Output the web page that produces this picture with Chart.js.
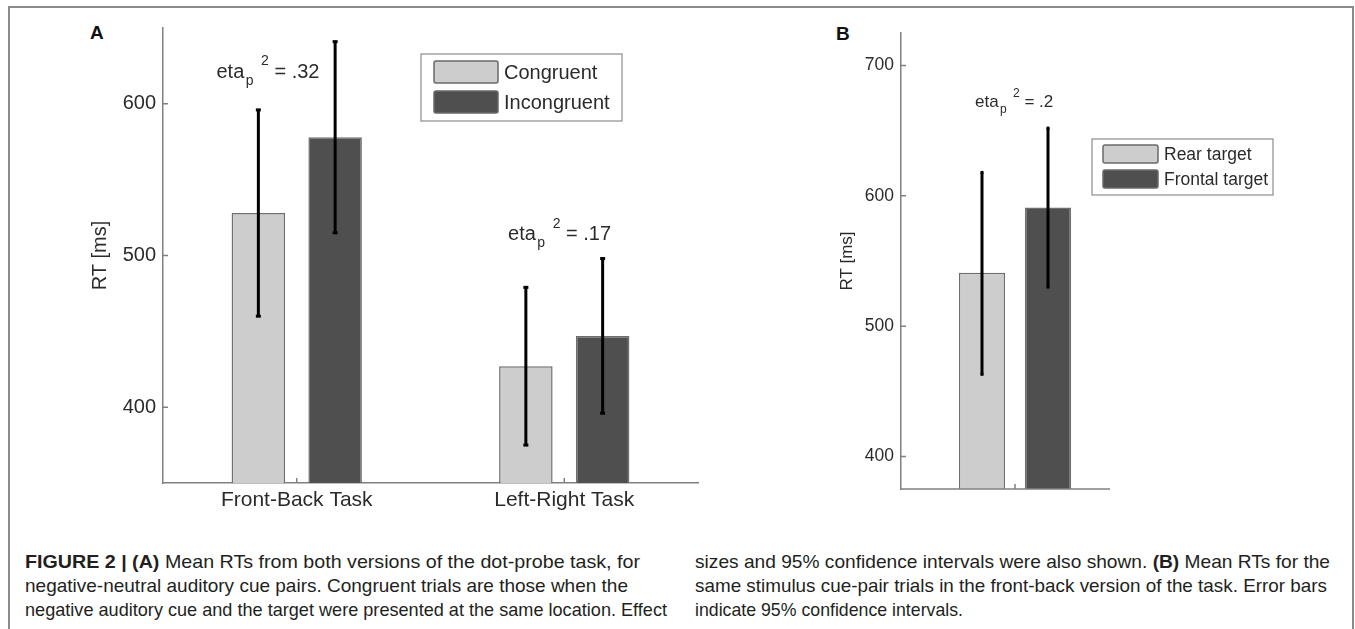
<!DOCTYPE html>
<html>
<head>
<meta charset="utf-8">
<script src="https://cdn.jsdelivr.net/npm/chart.js@4.4.1/dist/chart.umd.min.js"></script>
<style>
  body { margin: 0; background: #fff; width: 1355px; height: 629px; position: relative; overflow: hidden;
         font-family: "Liberation Sans", Arial, sans-serif; color: #231f20; }
  .frame { position: absolute; left: 8px; top: 6px; width: 1342px; height: 700px;
           border: 2px solid #8a8a8a; border-bottom: none; }
  canvas { position: absolute; top: 0; }
  #chartA { left: 0; }
  #chartB { left: 800px; }
  .panel-label { position: absolute; font-weight: bold; font-size: 19px; line-height: 19px; color: #111; }
  .cap { position: absolute; font-size: 19px; line-height: 24px; white-space: nowrap; color: #231f20;
         transform-origin: 0 0; }
  .cap b { font-weight: bold; }
</style>
</head>
<body>
<div class="frame"></div>
<div class="panel-label" style="left:90px; top:23px;">A</div>
<div class="panel-label" style="left:836px; top:24px;">B</div>
<canvas id="chartA" width="720" height="530"></canvas>
<canvas id="chartB" width="540" height="530"></canvas>

<div class="cap" data-w="615" style="left:25px; top:550px;"><b>FIGURE 2 | (A)</b> Mean RTs from both versions of the dot-probe task, for</div>
<div class="cap" data-w="603" style="left:25px; top:574px;">negative-neutral auditory cue pairs. Congruent trials are those when the</div>
<div class="cap" data-w="642" style="left:25px; top:598px;">negative auditory cue and the target were presented at the same location. Effect</div>
<div class="cap" data-w="635" style="left:695px; top:550px;">sizes and 95% confidence intervals were also shown. <b>(B)</b> Mean RTs for the</div>
<div class="cap" data-w="632" style="left:695px; top:574px;">same stimulus cue-pair trials in the front-back version of the task. Error bars</div>
<div class="cap" data-w="268" style="left:695px; top:598px;">indicate 95% confidence intervals.</div>

<script>
// Panel A data
const tasks = ['Front-Back Task', 'Left-Right Task'];
const congruentRT = [528, 427];
const incongruentRT = [578, 447];
const congruentLow = [460, 375];
const congruentHigh = [596, 479];
const incongruentLow = [515, 396];
const incongruentHigh = [641, 498];
const etaA = ['.32', '.17'];
const yTicksA = [400, 500, 600];

// Panel B data
const targets = [''];
const rearRT = [541];
const frontalRT = [591];
const rearLow = [463];
const rearHigh = [618];
const frontalLow = [530];
const frontalHigh = [652];
const etaB = ['.2'];
const yTicksB = [400, 500, 600, 700];

const FONT = '"Liberation Sans", Arial, sans-serif';
const TEXT = '#2b2b2b';
const AXIS = '#808080';
const LIGHT = '#cdcdcd';
const DARK = '#4f4f4f';

// caption lines: squeeze/stretch each line to the width it has in the figure
document.querySelectorAll('.cap').forEach(el => {
    const w = el.getBoundingClientRect().width;
    el.style.transform = 'scaleX(' + (parseFloat(el.dataset.w) / w) + ')';
});

// eta_p^2 = value, drawn piece by piece
function drawEta(ctx, x, y, value, size) {
    ctx.fillStyle = TEXT;
    ctx.textAlign = 'left';
    ctx.textBaseline = 'alphabetic';
    ctx.font = size + 'px ' + FONT;
    ctx.fillText('eta', x, y);
    let cx = x + ctx.measureText('eta').width + size * 0.07;
    const small = Math.round(size * 0.7);
    ctx.font = small + 'px ' + FONT;
    ctx.fillText('p', cx, y + size * 0.35);
    cx += ctx.measureText('p').width + size * 0.38;
    ctx.fillText('2', cx, y - size * 0.63);
    cx += ctx.measureText('2').width;
    ctx.font = size + 'px ' + FONT;
    ctx.fillText(' = ' + value, cx, y);
}

const decor = {
    id: 'decor',
    afterDatasetsDraw(chart, args, opts) {
        const ctx = chart.ctx;
        const xs = chart.scales.x;
        const ys = chart.scales.y;
        const area = chart.chartArea;
        ctx.save();

        // error bars
        ctx.strokeStyle = '#000';
        ctx.fillStyle = '#000';
        ctx.lineWidth = opts.errWidth;
        chart.data.datasets.forEach((ds, i) => {
            chart.getDatasetMeta(i).data.forEach((bar, j) => {
                const top = ys.getPixelForValue(ds.high[j]);
                const bot = ys.getPixelForValue(ds.low[j]);
                ctx.beginPath();
                ctx.moveTo(bar.x, top);
                ctx.lineTo(bar.x, bot);
                ctx.stroke();
                ctx.fillRect(bar.x - opts.cap / 2, top - 1.5, opts.cap, 3);
                ctx.fillRect(bar.x - opts.cap / 2, bot - 1.5, opts.cap, 3);
            });
        });

        // x axis line (B stops short of the chart edge)
        ctx.strokeStyle = AXIS;
        ctx.lineWidth = 1.5;
        if (opts.xAxisEnd !== undefined) {
            ctx.beginPath();
            ctx.moveTo(area.left, area.bottom);
            ctx.lineTo(xs.getPixelForValue(opts.xAxisEnd), area.bottom);
            ctx.stroke();
        }

        // inward tick marks
        ctx.beginPath();
        ys.ticks.forEach(t => {
            const py = ys.getPixelForValue(t.value);
            ctx.moveTo(area.left, py);
            ctx.lineTo(area.left + 5, py);
        });
        xs.ticks.forEach((t, i) => {
            const px = xs.getPixelForValue(i);
            ctx.moveTo(px, area.bottom);
            ctx.lineTo(px, area.bottom - 5);
        });
        ctx.stroke();

        // effect size labels
        opts.eta.forEach(e => {
            drawEta(ctx, xs.getPixelForValue(e.at), ys.getPixelForValue(e.value), e.text, opts.etaSize);
        });

        // legend box
        const L = opts.legend;
        ctx.fillStyle = '#fff';
        ctx.fillRect(L.x, L.y, L.w, L.h);
        ctx.strokeStyle = '#8c8c8c';
        ctx.lineWidth = 1.2;
        ctx.strokeRect(L.x, L.y, L.w, L.h);
        ctx.font = L.font + 'px ' + FONT;
        ctx.textBaseline = 'middle';
        ctx.textAlign = 'left';
        chart.data.datasets.forEach((ds, i) => {
            const sy = L.y + L.padY + i * L.step;
            ctx.fillStyle = ds.backgroundColor;
            ctx.strokeStyle = '#6a6a6a';
            ctx.lineWidth = 1.5;
            ctx.beginPath();
            ctx.roundRect(L.x + L.padX, sy, L.sw, L.sh, 2);
            ctx.fill();
            ctx.stroke();
            ctx.fillStyle = TEXT;
            ctx.fillText(ds.label, L.x + L.padX + L.sw + 6, sy + L.sh / 2 + 1);
        });
        ctx.restore();
    }
};

function makeChart(id, cfg) {
    return new Chart(document.getElementById(id), {
        type: 'bar',
        data: {
            labels: cfg.labels,
            datasets: cfg.series.map(s => ({
                label: s.label,
                data: s.data,
                low: s.low,
                high: s.high,
                backgroundColor: s.color,
                borderColor: '#6e6e6e',
                borderWidth: 1.5,
                categoryPercentage: cfg.catPct,
                barPercentage: cfg.barPct
            }))
        },
        options: {
            responsive: false,
            animation: false,
            devicePixelRatio: 1,
            layout: { padding: cfg.padding },
            plugins: {
                legend: { display: false },
                tooltip: { enabled: false },
                decor: cfg.decor
            },
            scales: {
                x: {
                    offset: true,
                    grid: { display: false, drawTicks: false },
                    border: { display: cfg.decor.xAxisEnd === undefined, color: AXIS, width: 1.5 },
                    ticks: { color: TEXT, font: { family: FONT, size: 21 }, padding: 5, maxRotation: 0 },
                    afterFit: s => { s.height = cfg.xHeight; }
                },
                y: {
                    min: cfg.yMin,
                    max: cfg.yMax,
                    grid: { display: false, drawTicks: false },
                    border: { display: true, color: AXIS, width: 1.5 },
                    ticks: { color: TEXT, font: { family: FONT, size: cfg.tickSize }, padding: 7 },
                    afterBuildTicks: s => { s.ticks = cfg.yTicks.map(v => ({ value: v })); },
                    afterFit: s => { s.width = cfg.yWidth; },
                    title: {
                        display: true,
                        text: 'RT [ms]',
                        color: TEXT,
                        font: { family: FONT, size: cfg.titleSize },
                        padding: { top: cfg.titlePad, bottom: 0 }
                    }
                }
            }
        },
        plugins: [decor]
    });
}

makeChart('chartA', {
    labels: tasks,
    series: [
        { label: 'Congruent', data: congruentRT, low: congruentLow, high: congruentHigh, color: LIGHT },
        { label: 'Incongruent', data: incongruentRT, low: incongruentLow, high: incongruentHigh, color: DARK }
    ],
    catPct: 0.574,
    barPct: 0.697,
    padding: { left: 0, top: 28, right: 22, bottom: 0 },
    xHeight: 47,
    yWidth: 163,
    yMin: 350,
    yMax: 650,
    yTicks: yTicksA,
    tickSize: 20,
    titleSize: 20,
    titlePad: 88,
    decor: {
        errWidth: 3,
        cap: 5,
        etaSize: 20,
        eta: [
            { at: -0.3, value: 617, text: etaA[0] },
            { at: 0.79, value: 510, text: etaA[1] }
        ],
        legend: { x: 421, y: 54, w: 201, h: 67, padX: 13, padY: 7, step: 30, sw: 64, sh: 22, font: 20 }
    }
});

makeChart('chartB', {
    labels: targets,
    series: [
        { label: 'Rear target', data: rearRT, low: rearLow, high: rearHigh, color: LIGHT },
        { label: 'Frontal target', data: frontalRT, low: frontalLow, high: frontalHigh, color: DARK }
    ],
    catPct: 0.579,
    barPct: 0.70,
    padding: { left: 0, top: 33, right: 211, bottom: 0 },
    xHeight: 41,
    yWidth: 101,
    yMin: 375,
    yMax: 725,
    yTicks: yTicksB,
    tickSize: 17.5,
    titleSize: 17,
    titlePad: 37,
    decor: {
        errWidth: 3,
        cap: 3,
        etaSize: 17,
        xAxisEnd: 0.417,
        eta: [
            { at: -0.175, value: 668, text: etaB[0] }
        ],
        legend: { x: 292, y: 139, w: 181, h: 56, padX: 11, padY: 6, step: 25, sw: 55, sh: 18, font: 17.5 }
    }
});
</script>
</body>
</html>
